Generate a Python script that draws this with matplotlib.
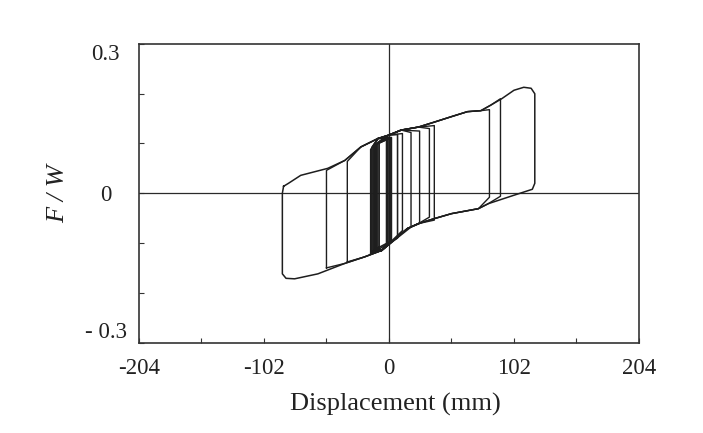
import matplotlib.pyplot as plt

plt.rcParams['font.family'] = ['Liberation Serif', 'DejaVu Serif']

# outermost loop (displacement mm, F/W)
# upper branch, left to right
upper_x = [-86, -82, -72, -50, -36, -23, -9, 0, 10, 24, 37, 51, 64, 75, 83, 92, 102, 110, 116]
upper_f = [0.014, 0.020, 0.036, 0.050, 0.066, 0.093, 0.110, 0.117, 0.127, 0.133,
           0.143, 0.154, 0.164, 0.166, 0.177, 0.190, 0.207, 0.213, 0.211]
# right edge, top to bottom
right_x = [119, 119, 117]
right_f = [0.200, 0.020, 0.008]
# lower branch, right to left
lower_x = [112, 102, 81, 73, 51, 37, 24, 15, -6, -20, -36, -58, -77, -84]
lower_f = [0.004, -0.004, -0.021, -0.031, -0.041, -0.051, -0.061, -0.071, -0.115,
           -0.128, -0.141, -0.162, -0.172, -0.171]
# left edge, bottom to top
left_x = [-87, -87]
left_f = [-0.162, 0.0]

# smaller loops: left / right edge and the force at the four corners
loop_left = [-51, -34, -15, -13, -12, -11, -10, -8, -13, -12, -11, -14, -10, -9]
loop_right = [91, 82, 37, 33, 25, 18, 11, 7, 2, 0, -2, 1, -1, 1]
f_top_left = [0.046, 0.064, 0.088, 0.092, 0.095, 0.098, 0.100, 0.104, 0.094, 0.096,
              0.098, 0.092, 0.100, 0.102]
f_top_right = [0.190, 0.168, 0.136, 0.130, 0.125, 0.122, 0.120, 0.118, 0.112, 0.110,
               0.108, 0.111, 0.109, 0.112]
f_bot_right = [-0.006, -0.008, -0.054, -0.048, -0.061, -0.068, -0.075, -0.090, -0.098,
               -0.100, -0.102, -0.099, -0.101, -0.097]
f_bot_left = [-0.150, -0.138, -0.122, -0.120, -0.118, -0.116, -0.114, -0.112, -0.116,
              -0.114, -0.113, -0.118, -0.112, -0.110]

x_ticks = [-204, -153, -102, -51, 0, 51, 102, 153, 204]
x_labels = ['-204', '', '-102', '', '0', '', '102', '', '204']
y_ticks = [-0.3, -0.2, -0.1, 0, 0.1, 0.2, 0.3]
y_labels = ['- 0.3', '', '', '0', '', '', '0.3']

fig = plt.figure(figsize=(7.03, 4.33), dpi=100)
ax = fig.add_axes([0.1977, 0.209, 0.7112, 0.6894])

line_col = '#1e1e1e'
ax.axhline(0, color='#2a2a2a', lw=0.9)
ax.axvline(0, color='#2a2a2a', lw=0.9)

ox = upper_x + right_x + lower_x + left_x + upper_x[:1]
of = upper_f + right_f + lower_f + left_f + upper_f[:1]
ax.plot(ox, of, color=line_col, lw=1.1, solid_joinstyle='round')

for i in range(len(loop_left)):
    xl, xr = loop_left[i], loop_right[i]
    top = [(x, f) for x, f in zip(upper_x, upper_f) if xl + 3 < x < xr - 3]
    bot = [(x, f) for x, f in zip(lower_x, lower_f) if xl + 3 < x < xr - 3]
    xs = [xl, xl] + [p[0] for p in top] + [xr, xr] + [p[0] for p in bot] + [xl]
    fs = ([f_bot_left[i], f_top_left[i]] + [p[1] for p in top]
          + [f_top_right[i], f_bot_right[i]] + [p[1] for p in bot] + [f_bot_left[i]])
    w = 1.0 if xr - xl > 20 else 1.15
    ax.plot(xs, fs, color=line_col, lw=w, solid_joinstyle='round')

ax.set_xlim(-204, 204)
ax.set_ylim(-0.3, 0.3)
ax.set_xticks(x_ticks, x_labels)
ax.set_yticks(y_ticks, y_labels)
ax.tick_params(direction='in', length=3.5, width=0.8, colors='#333333',
               labelcolor='#222222', labelsize=16.5)
ax.tick_params(axis='x', pad=11)
ax.tick_params(axis='y', pad=24)
ylabs = ax.get_yticklabels()
for lab in ylabs:
    lab.set_ha('center')
ylabs[0].set_va('bottom')
ylabs[-1].set_va('top')

for sp in ax.spines.values():
    sp.set_color('#333333')
    sp.set_linewidth(1.2)

ax.set_xlabel('Displacement (mm)', fontsize=19, color='#222222', va='center')
ax.xaxis.set_label_coords(0.513, -0.209)
ax.set_ylabel('F / W', fontsize=19, style='italic', color='#222222', va='center')
ax.yaxis.set_label_coords(-0.162, 0.5)

fig.savefig('out.png', dpi=100)
